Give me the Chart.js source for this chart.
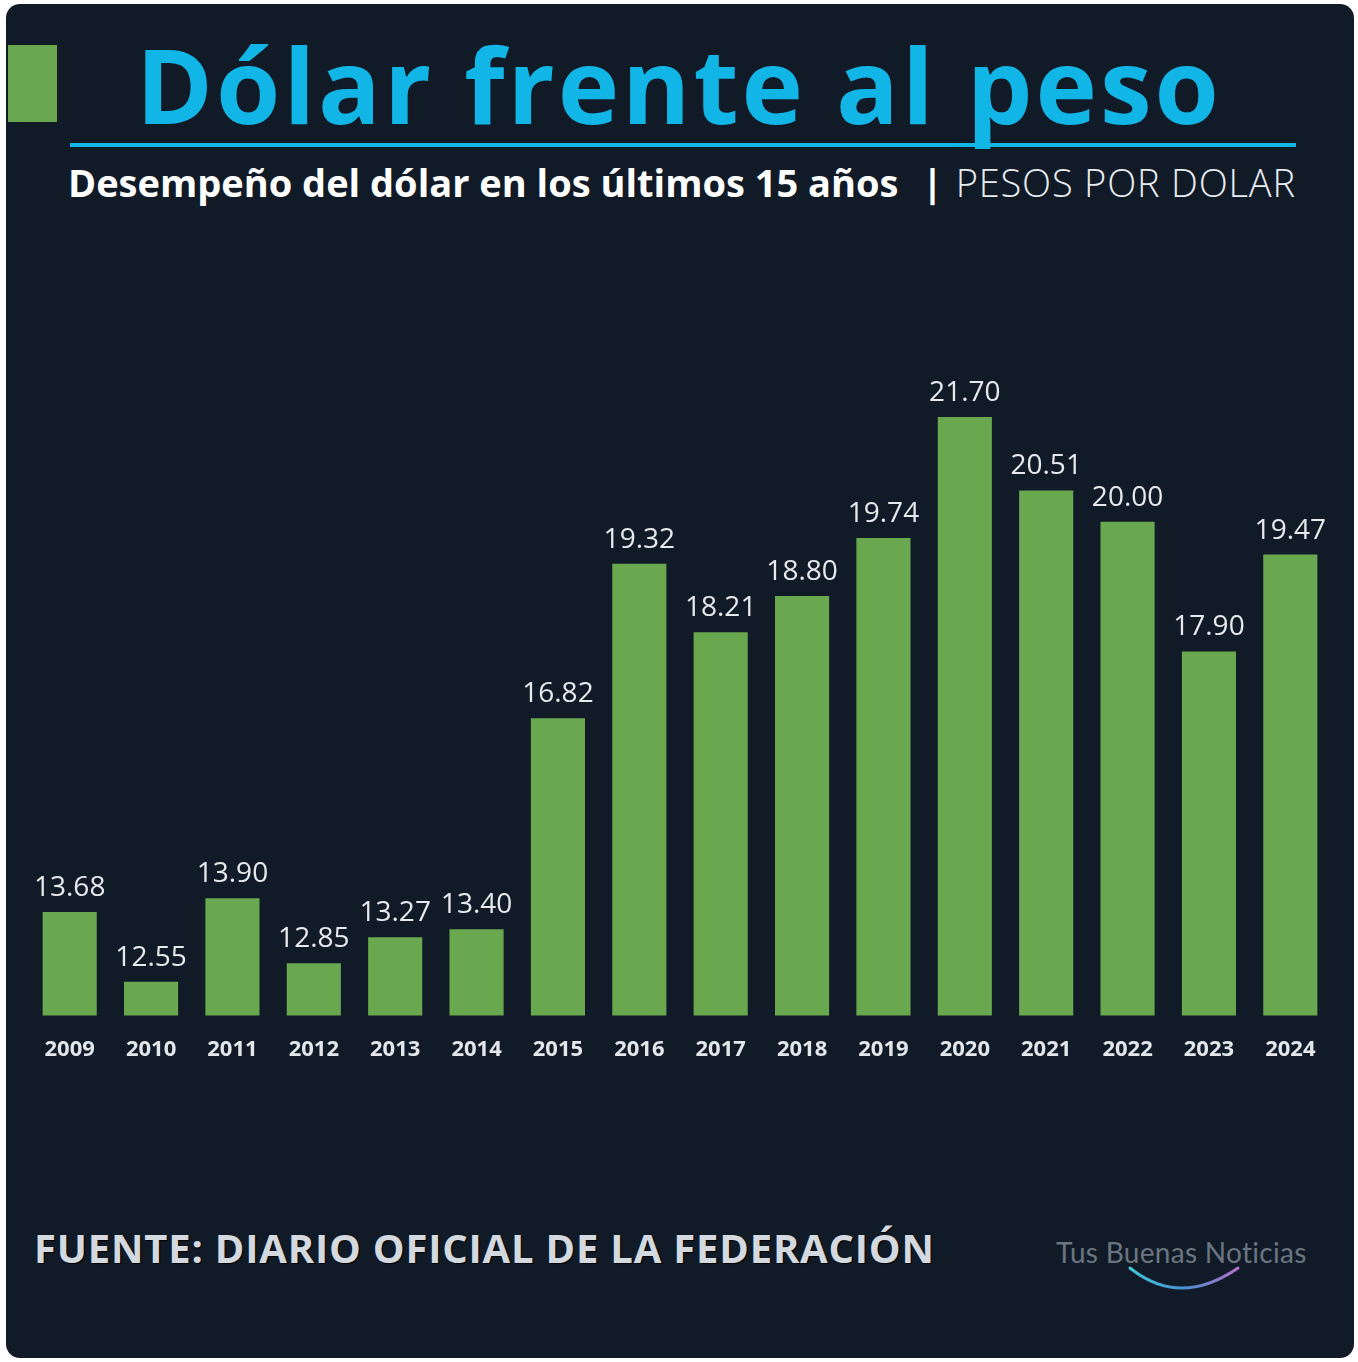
<!DOCTYPE html>
<html>
<head>
<meta charset="utf-8">
<script src="https://cdn.jsdelivr.net/npm/chart.js@4"></script>
<style>
  html, body { margin: 0; padding: 0; background: #ffffff; }
  body { width: 1358px; height: 1362px; position: relative; overflow: hidden; font-family: "Open Sans", sans-serif; }
  .card { position: absolute; left: 6px; top: 4px; width: 1348px; height: 1354px; background: #111b28; border-radius: 14px; }
  .sq { position: absolute; left: 8px; top: 45px; width: 49px; height: 77px; background: #6aa84f; }
  .title { position: absolute; left: 0; width: 1358px; top: 14px; text-align: center;
           color: #12b6e6; font-weight: 700; font-size: 104px; line-height: 140px; white-space: nowrap; letter-spacing: 3px; }
  .rule { position: absolute; left: 70px; top: 143px; width: 1226px; height: 4px; background: #12b6e6; }
  .sub { position: absolute; left: 68px; top: 156px; color: #ffffff; font-weight: 700; font-size: 38px; line-height: 52px;
         white-space: nowrap; letter-spacing: 0px; }
  .unit { position: absolute; left: 922px; top: 156px; color: #e8ecf0; font-weight: 300; font-size: 38px; line-height: 52px;
          white-space: nowrap; letter-spacing: 0.8px; }
  .unit b { font-weight: 700; color: #ffffff; margin-right: 12px; }
  .src { position: absolute; left: 34px; top: 1220px; color: #d3d9df; font-weight: 700; font-size: 40px; line-height: 56px;
         white-space: nowrap; letter-spacing: 0.8px; text-shadow: 1px 1px 1px #000; }
  .logo { position: absolute; left: 1056px; top: 1234px; color: #6b7581; font-family: "Lato", sans-serif; font-size: 28px;
          line-height: 36px; letter-spacing: 0.3px; white-space: nowrap; }
  .arc { position: absolute; left: 1120px; top: 1262px; }
  #wrap { position: absolute; left: 29px; top: 275px; width: 1302px; height: 801px; }
</style>
</head>
<body>
<div class="card"></div>
<div class="sq"></div>
<div class="title">Dólar frente al peso</div>
<div class="rule"></div>
<div class="sub">Desempeño del dólar en los últimos 15 años</div>
<div class="unit"><b>|</b>PESOS POR DOLAR</div>
<div id="wrap"><canvas id="chartCanvas"></canvas></div>
<div class="src">FUENTE: DIARIO OFICIAL DE LA FEDERACIÓN</div>
<div class="logo">Tus Buenas Noticias</div>
<svg class="arc" width="130" height="40" viewBox="0 0 130 40">
  <defs>
    <linearGradient id="g" x1="0" x2="1" y1="0" y2="0">
      <stop offset="0" stop-color="#3fc7d6"/>
      <stop offset="0.5" stop-color="#4a8fd0"/>
      <stop offset="1" stop-color="#b56fc8"/>
    </linearGradient>
  </defs>
  <path d="M10 6 Q60 46 118 6" stroke="url(#g)" stroke-width="3" fill="none" stroke-linecap="round"/>
</svg>
<script>
const years = ['2009','2010','2011','2012','2013','2014','2015','2016','2017','2018','2019','2020','2021','2022','2023','2024'];
const pesos = [13.68, 12.55, 13.90, 12.85, 13.27, 13.40, 16.82, 19.32, 18.21, 18.80, 19.74, 21.70, 20.51, 20.00, 17.90, 19.47];

const valueLabels = {
  id: 'valueLabels',
  afterDatasetsDraw(chart) {
    const ctx = chart.ctx;
    const meta = chart.getDatasetMeta(0);
    ctx.save();
    ctx.fillStyle = '#e6e9ec';
    ctx.font = '28px "Open Sans"';
    ctx.textAlign = 'center';
    ctx.textBaseline = 'bottom';
    meta.data.forEach((bar, i) => {
      ctx.fillText(pesos[i].toFixed(2), bar.x, bar.y - 10);
    });
    ctx.restore();
  }
};

const canvas = document.getElementById('chartCanvas');
new Chart(canvas, {
  type: 'bar',
  data: {
    labels: years,
    datasets: [{
      label: 'Pesos por dólar',
      data: pesos,
      backgroundColor: '#6aa84f',
      borderWidth: 0,
      categoryPercentage: 1,
      barPercentage: 0.665
    }]
  },
  options: {
    responsive: true,
    maintainAspectRatio: false,
    animation: false,
    layout: { padding: 0 },
    plugins: { legend: { display: false }, tooltip: { enabled: false } },
    scales: {
      y: { display: false, min: 12, max: 24 },
      x: {
        grid: { display: false },
        border: { display: false },
        ticks: { color: '#e3e7eb', font: { family: 'Open Sans', weight: 'bold', size: 22 }, padding: 13 }
      }
    }
  },
  plugins: [valueLabels]
});
</script>
</body>
</html>
